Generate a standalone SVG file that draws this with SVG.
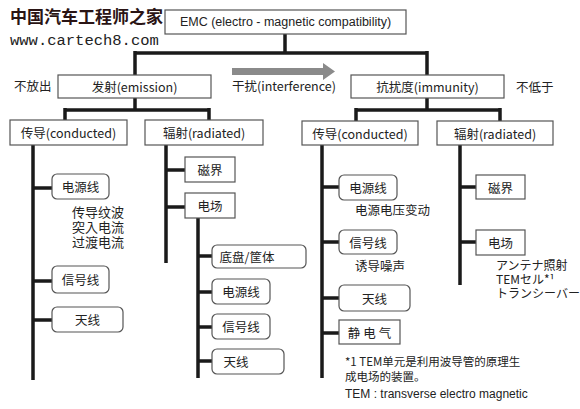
<svg xmlns="http://www.w3.org/2000/svg" width="580" height="409" viewBox="0 0 580 409">
<style>
.box{fill:#fff;stroke:#555;stroke-width:1.2}
.t{font-family:"Noto Sans CJK JP","Noto Sans CJK SC",sans-serif;font-size:12.5px;fill:#222;text-anchor:middle;dominant-baseline:central}
.n{font-family:"Noto Sans CJK JP","Noto Sans CJK SC",sans-serif;font-size:12.5px;fill:#222}
.c{stroke:#1a1a1a;stroke-width:3.5;fill:none}
</style>
<rect width="580" height="409" fill="#fff"/>
<text x="10" y="23" font-family="'Noto Sans CJK SC',sans-serif" font-size="17" font-weight="bold" fill="#2a1414">中国汽车工程师之家</text>
<text x="10" y="45" font-family="'Liberation Mono',monospace" font-size="15.5" fill="#222">www.cartech8.com</text>

<g id="connectors">
<path class="c" d="M285 34V53M135 53H427M135 51V75M427 51V75"/>
<path class="c" d="M135 98V110M65 110H209M65 108V120M209 108V120"/>
<path class="c" d="M427 98V110M356 110H500M356 108V121M500 108V121"/>
<path class="c" d="M33 145V380M33 188H52M33 281H52M33 320H52"/>
<path class="c" d="M166 145V263M166 170H185M166 207H185"/>
<path class="c" d="M198 218V378M198 256H212M198 292H212M198 327H212M198 361H212"/>
<path class="c" d="M322 145V378M322 187H339M322 242H339M322 298H339M322 333H339"/>
<path class="c" d="M460 145V285M460 187H476M460 242H476"/>
<path d="M232 68H323V63L335 71.5L323 80V75H232Z" fill="#8a8a8a"/>
</g>

<g id="emc"><rect class="box" x="165" y="10" width="241" height="24"/><text class="t" x="285.5" y="22" style="font-family:'Liberation Sans',sans-serif">EMC (electro - magnetic compatibility)</text></g>
<g id="emission"><rect class="box" x="58" y="75" width="153" height="23"/><text class="t" x="134.5" y="86.5">发射(emission)</text></g>
<text class="n" x="14" y="91">不放出</text>
<text class="n" x="232" y="91">干扰(interference)</text>
<g id="immunity"><rect class="box" x="351" y="75" width="153" height="23"/><text class="t" x="427.5" y="86.5">抗扰度(immunity)</text></g>
<text class="n" x="516" y="92">不低于</text>

<g id="cond-l"><rect class="box" x="10" y="120" width="117" height="25"/><text class="t" x="68.5" y="132.5">传导(conducted)</text></g>
<g id="rad-l"><rect class="box" x="145" y="120" width="118" height="25"/><text class="t" x="204" y="132.5">辐射(radiated)</text></g>
<g id="cond-r"><rect class="box" x="302" y="121" width="116" height="24"/><text class="t" x="360" y="133">传导(conducted)</text></g>
<g id="rad-r"><rect class="box" x="437" y="121" width="116" height="24"/><text class="t" x="495" y="133">辐射(radiated)</text></g>

<g id="l-power"><rect class="box" x="52" y="174" width="57" height="25" rx="5"/><text class="t" x="80.5" y="186.5">电源线</text></g>
<text class="n" style="font-size:13px"><tspan x="72" y="217">传导纹波</tspan><tspan x="72" y="232">突入电流</tspan><tspan x="72" y="247">过渡电流</tspan></text>
<g id="l-signal"><rect class="box" x="52" y="266" width="57" height="27" rx="5"/><text class="t" x="80.5" y="279.5">信号线</text></g>
<g id="l-antenna"><rect class="box" x="52" y="307" width="71" height="25" rx="5"/><text class="t" x="87.5" y="319.5">天线</text></g>

<g id="l-mag"><rect class="box" x="185" y="157" width="50" height="25"/><text class="t" x="210" y="169.5">磁界</text></g>
<g id="l-elec"><rect class="box" x="185" y="193" width="50" height="25"/><text class="t" x="210" y="205.5">电场</text></g>
<g id="l-chassis"><rect class="box" x="212" y="245" width="94" height="23" rx="5"/><text class="t" x="247" y="256.5">底盘/筐体</text></g>
<g id="l-epower"><rect class="box" x="212" y="279" width="58" height="25" rx="5"/><text class="t" x="241" y="291.5">电源线</text></g>
<g id="l-esignal"><rect class="box" x="212" y="314" width="58" height="25" rx="5"/><text class="t" x="241" y="326.5">信号线</text></g>
<g id="l-eantenna"><rect class="box" x="212" y="349" width="72" height="25" rx="5"/><text class="t" x="236" y="361.5">天线</text></g>

<g id="r-power"><rect class="box" x="339" y="175" width="58" height="25" rx="5"/><text class="t" x="368" y="187.5">电源线</text></g>
<text class="n" x="355" y="215">电源电压变动</text>
<g id="r-signal"><rect class="box" x="339" y="230" width="58" height="24" rx="5"/><text class="t" x="368" y="242">信号线</text></g>
<text class="n" x="355" y="271">诱导噪声</text>
<g id="r-antenna"><rect class="box" x="339" y="285" width="71" height="26" rx="5"/><text class="t" x="374.5" y="298">天线</text></g>
<g id="r-esd"><rect class="box" x="339" y="320" width="61" height="24"/><text class="t" x="371" y="332" letter-spacing="3">静电气</text></g>

<g id="r-mag"><rect class="box" x="476" y="175" width="49" height="24"/><text class="t" x="500.5" y="187">磁界</text></g>
<g id="r-elec"><rect class="box" x="476" y="230" width="49" height="25"/><text class="t" x="500.5" y="242.5">电场</text></g>
<text class="n" style="font-size:12px"><tspan x="496" y="270">アンテナ照射</tspan><tspan x="496" y="284">TEMセル*¹</tspan><tspan x="496" y="298">トランシーバー</tspan></text>

<g id="footnote">
<text class="n" style="font-size:11.5px"><tspan x="345" y="366">*1 TEM单元是利用波导管的原理生</tspan><tspan x="345" y="381">成电场的装置。</tspan></text>
<text x="345" y="398" font-family="'Liberation Sans',sans-serif" font-size="12" fill="#222">TEM : transverse electro magnetic</text>
</g>
</svg>
